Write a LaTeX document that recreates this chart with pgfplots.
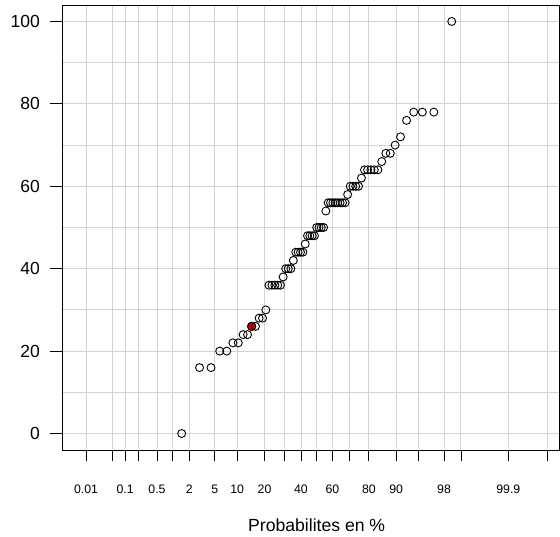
\documentclass[border=0pt]{standalone}
\usepackage{pgfplots}
\pgfplotsset{compat=1.18}
\usepackage{fontspec}
\setmainfont{Liberation Sans}
\definecolor{gridgray}{RGB}{211,211,211}
\definecolor{ptred}{RGB}{225,0,0}

% Sorted observations against normal quantiles of the plotting positions i/(n+1), n = 67
\pgfplotstableread{
z y
-2.1779 0
-1.8894 16
-1.7047 16
-1.5646 20
-1.4499 20
-1.3516 22
-1.2650 22
-1.1868 24
-1.1153 24
-1.0490 26
-0.9872 26
-0.9288 28
-0.8736 28
-0.8208 30
-0.7702 36
-0.7214 36
-0.6745 36
-0.6288 36
-0.5846 36
-0.5413 38
-0.4992 40
-0.4578 40
-0.4173 40
-0.3774 42
-0.3381 44
-0.2993 44
-0.2610 44
-0.2230 44
-0.1854 46
-0.1480 48
-0.1108 48
-0.0738 48
-0.0369 48
0.0000 50
0.0369 50
0.0738 50
0.1108 50
0.1480 54
0.1854 56
0.2230 56
0.2610 56
0.2993 56
0.3381 56
0.3774 56
0.4173 56
0.4578 56
0.4992 58
0.5413 60
0.5846 60
0.6288 60
0.6745 60
0.7214 62
0.7702 64
0.8208 64
0.8736 64
0.9288 64
0.9872 64
1.0490 66
1.1153 68
1.1868 68
1.2650 70
1.3516 72
1.4499 76
1.5646 78
1.7047 78
1.8894 78
2.1779 100
}\obsdata

\begin{document}
\begin{tikzpicture}[x=1pt,y=1pt]
\path[use as bounding box, clip] (0,0) rectangle (560,537);
\begin{axis}[
  at={(62pt,87pt)}, anchor=south west,
  scale only axis, width=509.4pt, height=445pt,
  xmin=-4.108, xmax=4.108, ymin=-4, ymax=104,
  axis line style={black, line width=0.8pt},
  xtick={-3.719016,-3.290527,-3.090232,-2.878162,-2.575829,-2.326348,-2.053749,-1.644854,-1.281552,-0.841621,-0.524401,-0.253347,0,0.253347,0.524401,0.841621,1.281552,1.644854,2.053749,2.326348,3.090232,3.719016},
  xticklabels={0.01,,0.1,,0.5,,2,5,10,20,,40,,60,,80,90,,98,,99.9,},
  ytick={0,20,...,100},
  minor ytick={10,30,...,90},
  grid=both,
  major grid style={gridgray, line width=0.9pt},
  minor grid style={gridgray, line width=0.9pt},
  tick align=outside, xtick pos=bottom, ytick pos=left,
  major tick length=11.5pt, minor tick length=0pt,
  tick style={black, line width=0.8pt},
  /pgf/number format/assume math mode=true,
  yticklabel style={font=\fontsize{17.5}{20}\selectfont, anchor=east, inner sep=0pt, xshift=-10.5pt},
  xticklabel style={font=\fontsize{12.3}{14}\selectfont, anchor=base, inner sep=0pt, yshift=-32pt},
  xlabel={Probabilites en \%},
  xlabel style={font=\fontsize{17.6}{20}\selectfont, at={(axis description cs:0.5,0)}, anchor=base, inner sep=0pt, yshift=-82pt},
]
% right side of the plot frame
\draw[black, line width=0.8pt] (axis cs:3.916,-4) -- (axis cs:3.916,104);
% highlighted observation
\addplot[only marks, mark=*, mark size=4.4pt, mark options={fill=ptred, draw=ptred, line width=0.6pt}] coordinates {(-1.0490,26)};
\addplot[only marks, mark=o, mark size=4pt, mark options={black, line width=0.9pt}] table[x=z, y=y] {\obsdata};
\end{axis}
\end{tikzpicture}
\end{document}
